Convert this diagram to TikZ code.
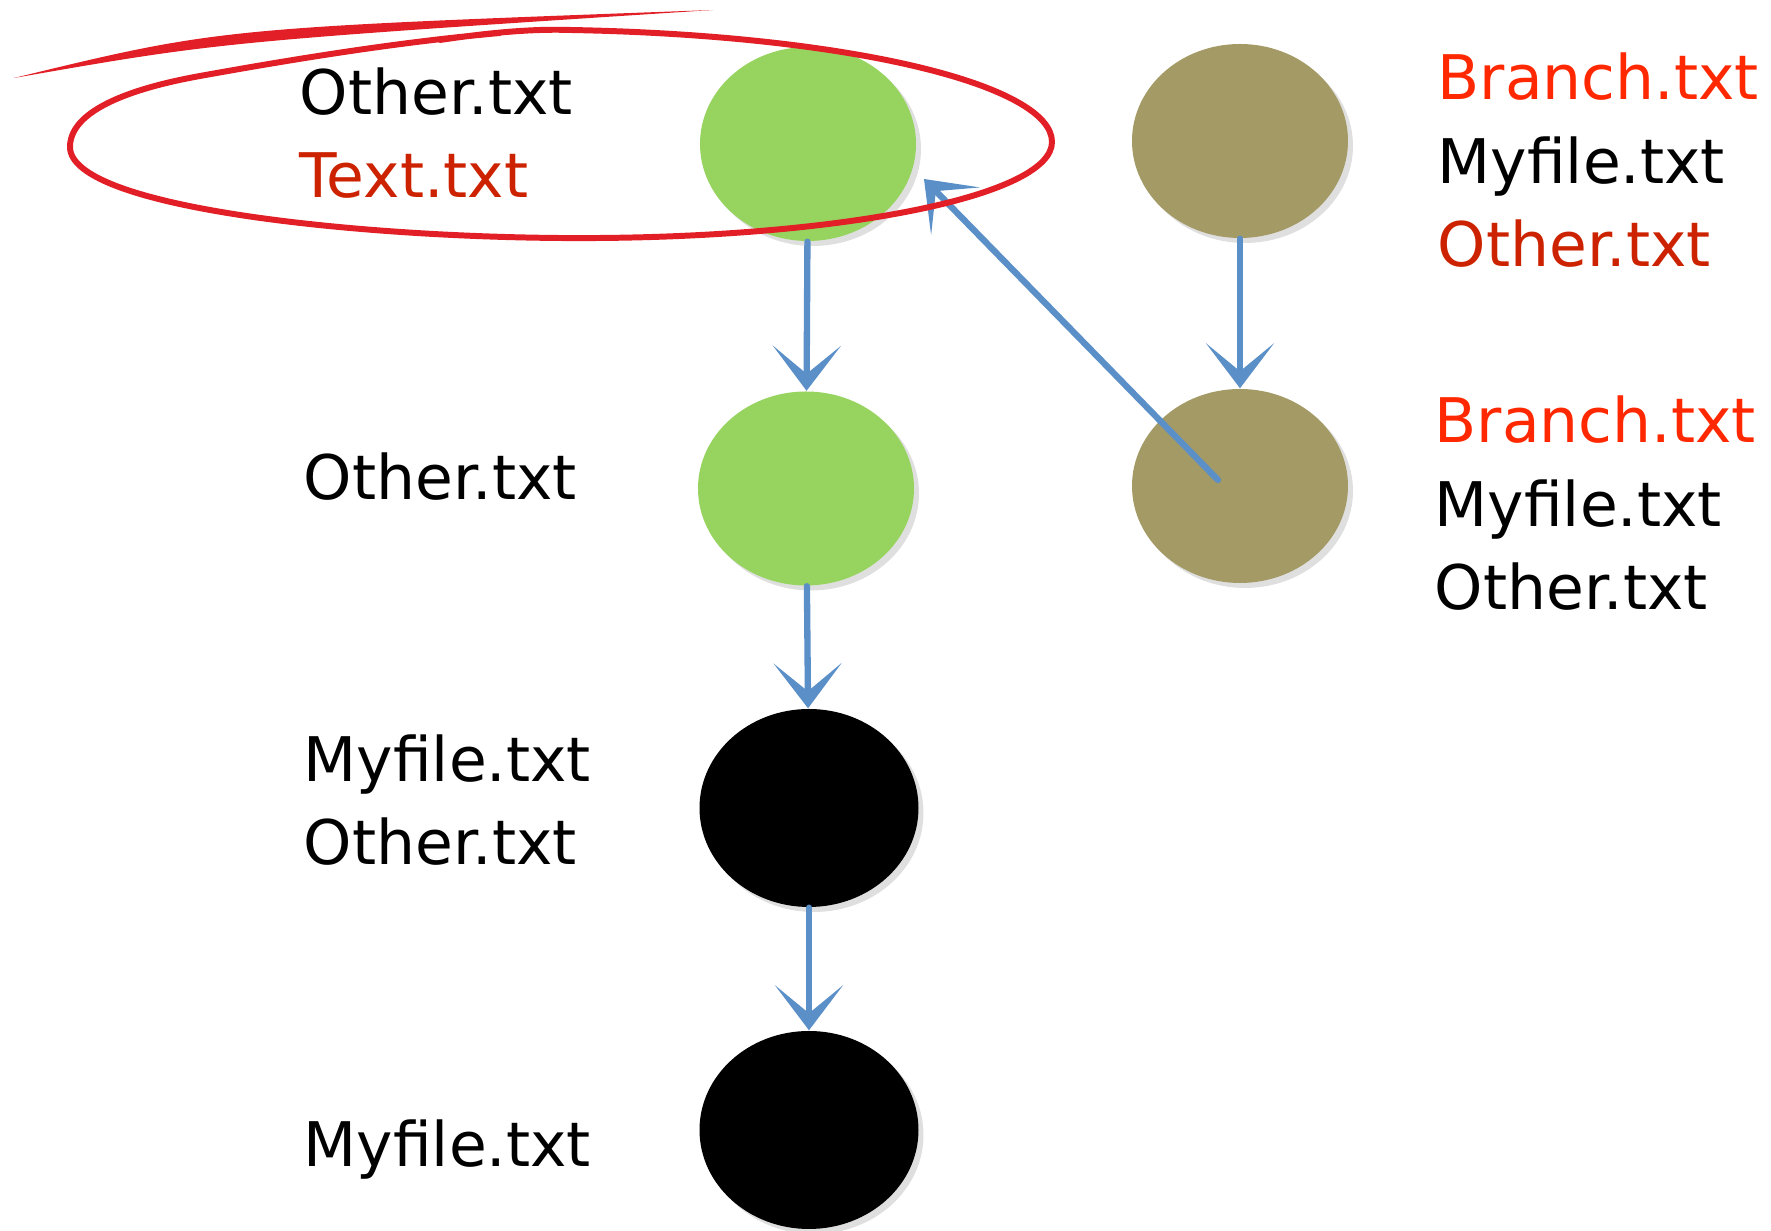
\documentclass[tikz,border=0pt]{standalone}
\usepackage{fontspec}
\setmainfont{DejaVu Sans}
\usetikzlibrary{shapes.geometric, arrows.meta, shadows}
\definecolor{commitgreen}{RGB}{151, 211, 95}
\definecolor{brancholive}{RGB}{164, 154, 102}
\definecolor{flowblue}{RGB}{91, 143, 200}
\definecolor{markred}{RGB}{226, 30, 38}
\definecolor{filered}{RGB}{204, 34, 0}
\definecolor{branchred}{RGB}{255, 40, 0}

\begin{document}
\begin{tikzpicture}[
    font=\fontsize{17.5pt}{23.8pt}\selectfont,
    commit/.style={ellipse, inner sep=0pt, minimum width=2.16cm, minimum height=1.94cm,
        drop shadow={shadow xshift=0.05cm, shadow yshift=-0.05cm, opacity=0.25}},
    files/.style={anchor=base west, align=left, inner sep=0pt},
    flow/.style={flowblue, line width=1.8pt, line cap=round,
        -{Stealth[length=4.5mm, width=6.8mm, inset=2.8mm]}},
    loop/.style={markred, line cap=round, line join=round}
]
    \useasboundingbox (0,0) rectangle (17.71,-12.31);

    % Master line
    \node[commit, fill=commitgreen] (gA) at (8.08,-1.44) {};
    \node[commit, fill=commitgreen] (gB) at (8.06,-4.885) {};
    \node[commit, fill=black, minimum width=2.19cm, minimum height=1.98cm] (kA) at (8.09,-8.08) {};
    \node[commit, fill=black, minimum width=2.19cm, minimum height=1.98cm] (kB) at (8.09,-11.30) {};

    % Branch line
    \node[commit, fill=brancholive] (oA) at (12.40,-1.41) {};
    \node[commit, fill=brancholive] (oB) at (12.40,-4.86) {};

    % File lists (base = last line)
    \node[files] (fgA) at (2.99,-1.98) {Other.txt\\\textcolor{filered}{Text.txt}};
    \node[files] (fgB) at (3.03,-5.00) {Other.txt};
    \node[files] (fkA) at (3.03,-8.65) {Myfile.txt\\Other.txt};
    \node[files] (fkB) at (3.03,-11.67) {Myfile.txt};
    \node[files] (foA) at (14.37,-2.67) {\textcolor{branchred}{Branch.txt}\\Myfile.txt\\\textcolor{filered}{Other.txt}};
    \node[files] (foB) at (14.34,-6.10) {\textcolor{branchred}{Branch.txt}\\Myfile.txt\\Other.txt};

    % Arrows
    \draw[flow] (gA) -- (gB);
    \draw[flow] (gB) -- (kA);
    \draw[flow] (kA) -- (kB);
    \draw[flow] (oA) -- (oB);
    \draw[flow] ([shift={(-0.22,0.06)}]oB.center) -- ([shift={(1.16,-0.35)}]gA.center);

    % Red mark round the first commit
    \draw[loop, line width=1.7pt] (4.4,-0.40) .. controls (5.0,-0.31) and (5.4,-0.29) .. (5.7,-0.30)
        .. controls (8.5,-0.35) and (10.52,-0.85) .. (10.52,-1.42)
        .. controls (10.52,-1.95) and (8.5,-2.36) .. (6.0,-2.38)
        .. controls (3.8,-2.4) and (0.7,-2.1) .. (0.70,-1.47)
        .. controls (0.70,-1.05) and (1.5,-0.85) .. (2.0,-0.76)
        .. controls (3.0,-0.58) and (4.0,-0.42) .. (5.0,-0.33);
    \fill[markred] (0.14,-0.78) .. controls (2.2,-0.28) .. (7.13,-0.10)
        .. controls (2.2,-0.42) .. (0.14,-0.78) -- cycle;
\end{tikzpicture}
\end{document}
